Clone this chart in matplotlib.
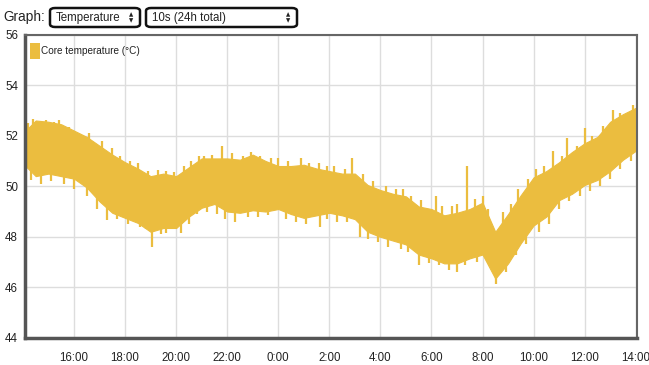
import numpy as np
import matplotlib
matplotlib.use('Agg')
import matplotlib.pyplot as plt
from matplotlib import font_manager
from matplotlib.patches import FancyBboxPatch

# hours since midnight of day 1 (24 = 0:00 next day), every half hour
hours = [14.1, 14.5, 15.0, 15.5, 16.0, 16.5, 17.0, 17.5, 18.0, 18.5, 19.0, 19.5,
         20.0, 20.5, 21.0, 21.5, 22.0, 22.5, 23.0, 23.5, 24.0, 24.5, 25.0, 25.5,
         26.0, 26.5, 27.0, 27.5, 28.0, 28.5, 29.0, 29.5, 30.0, 30.5, 31.0, 31.5,
         32.0, 32.5, 33.0, 33.5, 34.0, 34.5, 35.0, 35.5, 36.0, 36.5, 37.0, 37.5, 38.0]
temp_high = [52.2, 52.6, 52.55, 52.45, 52.2, 51.95, 51.6, 51.25, 50.95, 50.7, 50.4, 50.5,
             50.4, 50.75, 51.1, 51.1, 51.1, 51.05, 51.25, 51.0, 50.8, 50.8, 50.85, 50.7,
             50.6, 50.5, 50.5, 50.05, 49.85, 49.7, 49.6, 49.2, 49.1, 48.85, 48.95, 49.1,
             49.35, 48.2, 48.9, 49.65, 50.35, 50.6, 50.95, 51.35, 51.7, 51.95, 52.55, 52.85, 53.1]
temp_low = [50.8, 50.4, 50.5, 50.4, 50.3, 49.95, 49.4, 48.95, 48.75, 48.55, 48.2, 48.35,
            48.35, 48.8, 49.15, 49.3, 49.0, 48.95, 49.05, 49.0, 49.1, 48.9, 48.75, 48.85,
            48.95, 48.85, 48.7, 48.2, 48.0, 47.85, 47.7, 47.3, 47.15, 46.95, 46.95, 47.15,
            47.3, 46.35, 46.95, 47.75, 48.45, 48.8, 49.45, 49.7, 50.05, 50.25, 50.6, 51.05, 51.4]

# single readings that stick out above the band
up_hours = [14.2, 14.4, 14.9, 15.2, 15.4, 15.8, 16.3, 16.6, 17.1, 17.5, 17.8,
            18.2, 18.5, 18.9, 19.3, 19.6, 19.9, 20.3, 20.6, 20.9, 21.1, 21.4, 21.8,
            22.2, 22.6, 22.95, 23.3, 23.7, 24.0, 24.4, 24.9, 25.2, 25.6, 25.9,
            26.2, 26.6, 26.9, 27.3, 27.7, 28.2, 28.6, 28.9, 29.2, 29.6, 30.17,
            30.4, 30.8, 31.0, 31.4, 31.7, 32.0, 32.2, 32.8, 33.1, 33.4, 33.8,
            34.1, 34.4, 34.75, 35.1, 35.3, 35.7, 36.0, 36.3, 36.7, 37.1, 37.4, 37.9]
up_temps = [52.5, 52.65, 52.6, 52.55, 52.6, 52.35, 52.0, 52.1, 51.8, 51.5, 51.2,
            51.0, 50.9, 50.6, 50.65, 50.6, 50.55, 50.8, 51.0, 51.2, 51.2, 51.25, 51.6,
            51.3, 51.2, 51.35, 51.2, 51.1, 51.1, 51.0, 51.1, 50.9, 50.9, 50.8,
            50.8, 50.7, 51.1, 50.5, 50.2, 50.0, 49.9, 49.9, 49.6, 49.45, 49.6,
            49.2, 49.2, 49.3, 50.8, 49.5, 49.6, 49.1, 49.0, 49.3, 49.9, 50.3,
            50.7, 50.8, 51.4, 51.2, 51.9, 51.6, 52.3, 52.0, 52.4, 53.0, 52.9, 53.2]
# and below it
down_hours = [14.3, 14.7, 15.1, 15.6, 16.0, 16.5, 16.9, 17.3, 17.7, 18.1,
              18.6, 18.8, 19.05, 19.4, 19.6, 20.2, 20.5, 20.8, 21.2, 21.6, 21.9,
              22.3, 22.8, 23.2, 23.6, 24.3, 24.7, 25.1, 25.65, 25.9,
              26.3, 26.7, 27.2, 27.5, 27.9, 28.3, 28.8, 29.1, 29.5, 29.9,
              30.3, 30.7, 31.0, 31.3, 31.8, 32.3, 32.53, 32.9, 33.3, 33.7,
              34.2, 34.6, 35.0, 35.4, 35.8, 36.2, 36.6, 37.0, 37.4, 37.8]
down_temps = [50.25, 50.1, 50.2, 50.1, 49.9, 49.6, 49.1, 48.65, 48.7, 48.5,
              48.4, 48.3, 47.6, 48.1, 48.15, 48.15, 48.5, 48.9, 49.0, 48.9, 48.7,
              48.6, 48.8, 48.8, 48.85, 48.7, 48.6, 48.5, 48.4, 48.7,
              48.6, 48.6, 48.0, 47.9, 47.8, 47.6, 47.5, 47.4, 46.9, 46.95,
              46.9, 46.7, 46.6, 46.9, 47.0, 47.0, 46.15, 46.6, 47.3, 47.7,
              48.2, 48.5, 49.1, 49.4, 49.6, 49.8, 50.0, 50.3, 50.7, 51.0]

tick_hours = [16, 18, 20, 22, 24, 26, 28, 30, 32, 34, 36, 38]
tick_labels = ['16:00', '18:00', '20:00', '22:00', '0:00', '2:00', '4:00',
               '6:00', '8:00', '10:00', '12:00', '14:00']
y_ticks = [44, 46, 48, 50, 52, 54, 56]

COLOR = '#EBBD3F'
names = {f.name for f in font_manager.fontManager.ttflist}
FONT = 'Liberation Sans Narrow' if 'Liberation Sans Narrow' in names else 'Liberation Sans'
FS = 9.5 if FONT == 'Liberation Sans Narrow' else 8.3
plt.rcParams['font.family'] = [FONT, 'DejaVu Sans']

fig = plt.figure(figsize=(6.49, 3.65), dpi=100)
ax = fig.add_axes([25 / 649, 27 / 365, 612 / 649, 303.5 / 365])

mid_h = np.array(hours)
mid_t = (np.array(temp_high) + np.array(temp_low)) / 2
ax.fill_between(hours, temp_low, temp_high, color=COLOR, lw=0.8, edgecolor=COLOR)
ax.vlines(up_hours, np.interp(up_hours, mid_h, mid_t), up_temps, color=COLOR, lw=1.6)
ax.vlines(down_hours, down_temps, np.interp(down_hours, mid_h, mid_t), color=COLOR, lw=1.6)

ax.set_xlim(14.08, 38.05)
ax.set_ylim(44, 56)
ax.set_xticks(tick_hours)
ax.set_xticklabels(tick_labels)
ax.set_yticks(y_ticks)
ax.tick_params(length=0, labelsize=FS, colors='#222222')
ax.tick_params(axis='x', pad=10)
ax.tick_params(axis='y', pad=5)
ax.grid(True, color='#DDDDDD', lw=1)
ax.set_axisbelow(True)
for side in ['left', 'bottom']:
    ax.spines[side].set_color('#555555')
    ax.spines[side].set_linewidth(2.5)
for side in ['top', 'right']:
    ax.spines[side].set_color('#666666')
    ax.spines[side].set_linewidth(1.5)

# legend swatch and label
ax.bar([14.47], [0.62], bottom=[55.03], width=0.42, color=COLOR)
ax.text(14.72, 55.36, 'Core temperature (°C)', fontsize=7.2, va='center', color='#222222')

# header controls
fig.text(3 / 649, 1 - 17 / 365, 'Graph:', fontsize=FS + 1.5, va='center', color='#222222')
for x0, x1, label in [(50, 140, 'Temperature'), (146, 297, '10s (24h total)')]:
    box = FancyBboxPatch((x0 / 649, 1 - 27 / 365), (x1 - x0) / 649, 19 / 365,
                         boxstyle='round,pad=0,rounding_size=0.008', transform=fig.transFigure,
                         facecolor='white', edgecolor='#111111', lw=1.8)
    fig.patches.append(box)
    fig.text((x0 + 6) / 649, 1 - 17.5 / 365, label, fontsize=FS, va='center', color='#222222')
    fig.text((x1 - 9) / 649, 1 - 14.5 / 365, '▲', fontsize=4, ha='center', va='center',
             color='#222222', family='DejaVu Sans')
    fig.text((x1 - 9) / 649, 1 - 20.5 / 365, '▼', fontsize=4, ha='center', va='center',
             color='#222222', family='DejaVu Sans')

fig.savefig('out.png', dpi=100)
